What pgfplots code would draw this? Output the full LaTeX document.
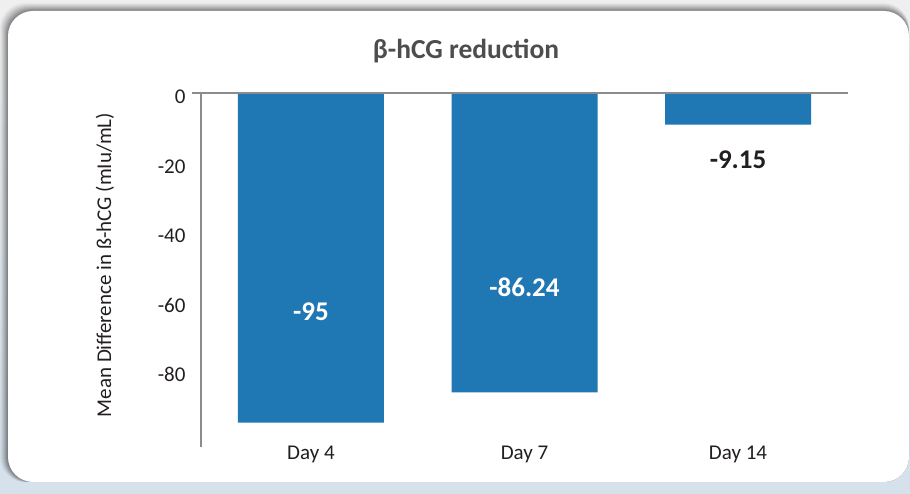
\documentclass[border=0pt]{standalone}
\usepackage{fontspec}
\setmainfont{Carlito}
\usepackage{pgfplots}
\pgfplotsset{compat=1.18}
\definecolor{barblue}{HTML}{1F77B4}
\definecolor{axgray}{HTML}{8C8C8E}
\definecolor{txt}{HTML}{231F20}
\definecolor{ttl}{HTML}{4D4D4F}
\definecolor{bgTop}{HTML}{EFEFF0}
\definecolor{bgBot}{HTML}{D5E1EB}
\begin{document}
\begin{tikzpicture}[x=1pt,y=1pt]
\useasboundingbox (0pt,0pt) rectangle (910pt,494pt);
\shade[top color=bgTop, bottom color=bgBot] (0pt,0pt) rectangle (910pt,494pt);
\foreach \i/\o in {8/0.03,7/0.04,6/0.05,5/0.06,4/0.07,3/0.08,2/0.09,1/0.10}{
  \fill[black,opacity=\o,rounded corners=25pt] (8pt-\i pt,12pt) rectangle (909pt,483pt+\i pt);
}
\fill[white,rounded corners=25pt] (8pt,12pt) rectangle (909pt,483pt);
\begin{axis}[
  at={(201pt,47pt)}, anchor=south west,
  scale only axis, width=647pt, height=354pt,
  xmin=-0.515, xmax=2.515, ymin=-102, ymax=0,
  axis line style={draw=none}, tick style={draw=none},
  xtick={0,1,2}, xticklabels={Day 4,Day 7,Day 14},
  ytick={-80,-60,-40,-20,0}, yticklabels={-80,-60,-40,-20,0},
  ticklabel style={font=\fontsize{21}{25}\selectfont, text=txt},
  xticklabel style={yshift=9pt},
  yticklabel style={xshift=-12pt, yshift=-4pt},
  every axis y label/.style={at={([xshift=-96pt,yshift=5pt]axis description cs:0,0.5)}, rotate=90, anchor=center, font=\fontsize{21}{25}\selectfont, text=txt},
  ylabel={Mean Difference in ß-hCG (mIu/mL)},
  clip=false, ybar, bar width=146pt,
]
\addplot[fill=barblue, draw=none] coordinates {(0,-95) (1,-86.24) (2,-9.15)};
\draw[axgray, line width=1.6pt] ([xshift=-9pt]rel axis cs:0,1) -- (rel axis cs:1,1);
\draw[axgray, line width=1.6pt] (rel axis cs:0,1) -- (rel axis cs:0,0);
\node[font=\bfseries\fontsize{27}{30}\selectfont, text=white] at (axis cs:0,-63.1) {-95};
\node[font=\bfseries\fontsize{27}{30}\selectfont, text=white] at (axis cs:1,-55.9) {-86.24};
\node[font=\bfseries\fontsize{27}{30}\selectfont, text=txt] at (axis cs:2,-19.3) {-9.15};
\end{axis}
\node[font=\bfseries\fontsize{27.5}{30}\selectfont, text=ttl] at (466pt,443pt) {β-hCG reduction};
\end{tikzpicture}
\end{document}
